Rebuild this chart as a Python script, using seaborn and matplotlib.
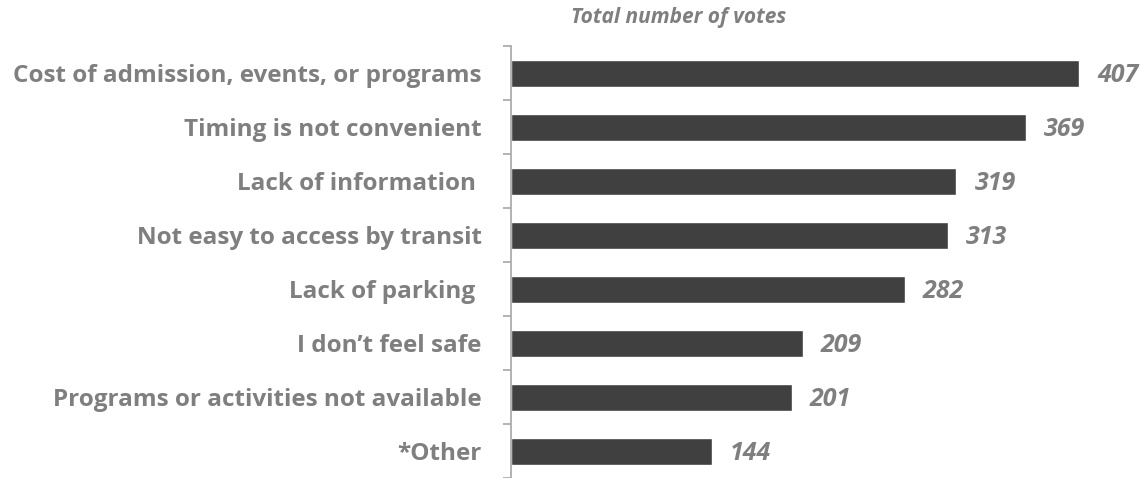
import pandas as pd
import numpy as np
import matplotlib
matplotlib.use("Agg")
import matplotlib.pyplot as plt
import seaborn as sb

# Data
reasons = [
    "Cost of admission, events, or programs",
    "Timing is not convenient",
    "Lack of information ",
    "Not easy to access by transit",
    "Lack of parking ",
    "I don\u2019t feel safe",
    "Programs or activities not available",
    "*Other",
]
votes = [407, 369, 319, 313, 282, 209, 201, 144]

df = pd.DataFrame({"reason": reasons, "votes": votes})

text_grey = "#7f7f7f"
bar_grey = "#404040"
axis_grey = "#a6a6a6"

sb.set_style("white")
plt.rcParams["font.family"] = ["Open Sans", "DejaVu Sans"]

fig = plt.figure(figsize=(11.46, 4.78), dpi=100)
ax = fig.add_axes([511 / 1146, 0.0, 1 - 511 / 1146, (478 - 46) / 478])

sb.barplot(data=df, x="votes", y="reason", color=bar_grey, width=0.5,
           saturation=1, ax=ax, orient="h")

ax.set_xlim(0, 455)
ax.set_ylim(len(reasons) - 0.5, -0.5)
ax.set_xlabel("")
ax.set_ylabel("")
ax.set_xticks([])

for s in ["top", "right", "bottom"]:
    ax.spines[s].set_visible(False)
ax.spines["left"].set_color(axis_grey)
ax.spines["left"].set_linewidth(1.2)

ax.set_yticks(np.arange(len(reasons)))
ax.set_yticklabels(reasons, fontsize=17.5, fontweight="bold", color=text_grey)
ax.tick_params(axis="y", which="major", left=True, length=0, pad=21)
ax.set_yticks(np.arange(len(reasons) + 1) - 0.5, minor=True)
ax.tick_params(axis="y", which="minor", left=True, length=6, width=1.2,
               color=axis_grey, direction="out")

for i, v in enumerate(votes):
    ax.text(v + 13, i, str(v), va="center_baseline", ha="left", fontsize=18,
            fontweight="bold", fontstyle="italic", color=text_grey)

fig.text(679 / 1146, 1 - 18 / 478, "Total number of votes", ha="center",
         va="center", fontsize=15, fontweight="bold", fontstyle="italic",
         color=text_grey)

fig.savefig("out.png", dpi=100)
